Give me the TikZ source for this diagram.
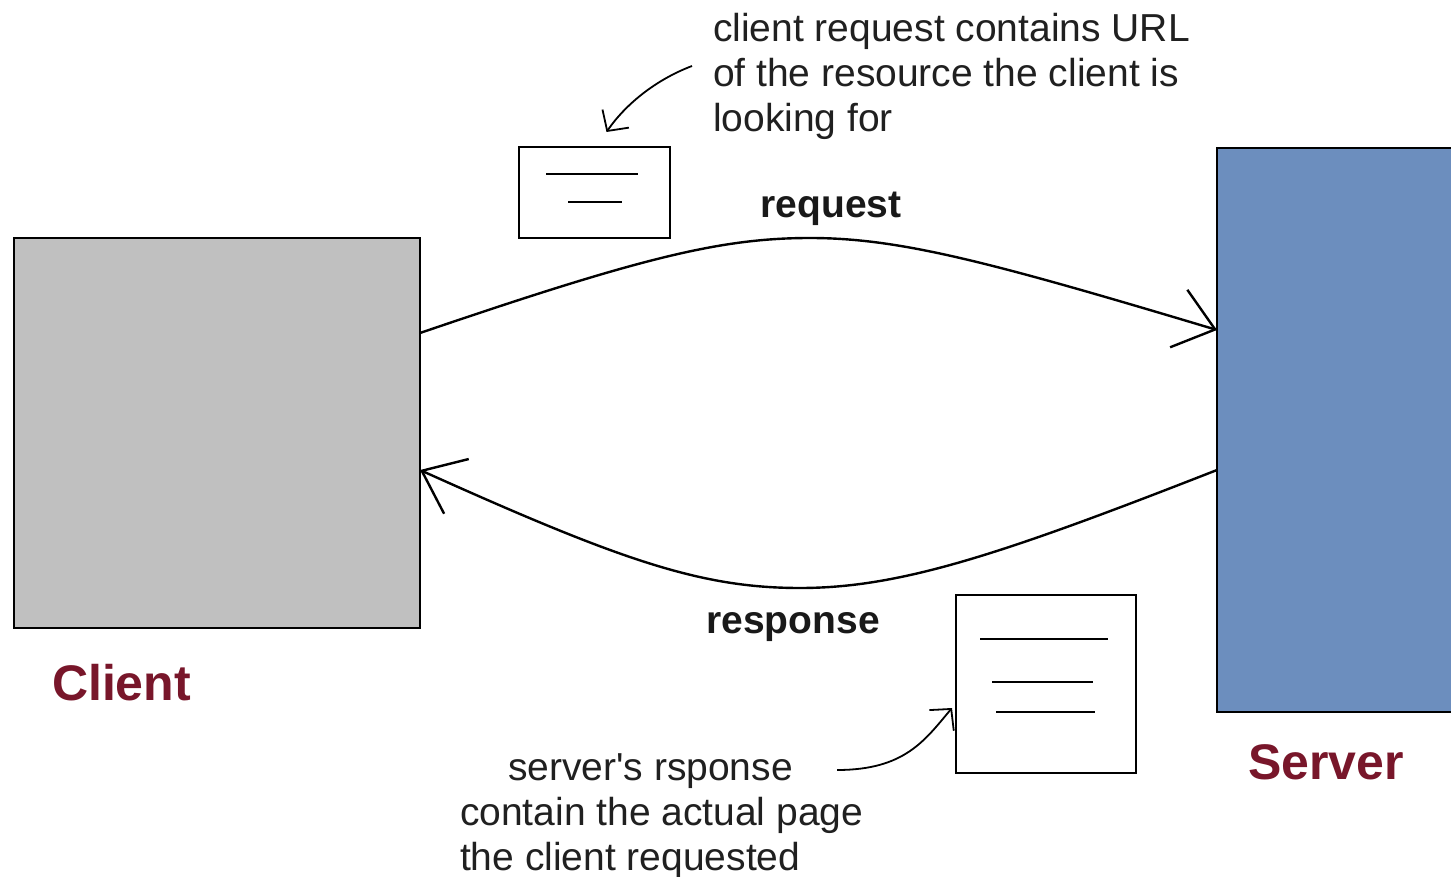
\documentclass[tikz,border=0pt]{standalone}
\usepackage{fontspec}
\setmainfont{Liberation Sans}[Ligatures=TeXOff]
\usetikzlibrary{arrows.meta}
\definecolor{clientgray}{RGB}{192,192,192}
\definecolor{serverblue}{RGB}{108,142,190}
\definecolor{labelred}{RGB}{120,22,42}
\definecolor{ink}{RGB}{32,32,32}
\begin{document}
\begin{tikzpicture}[x=1pt,y=-1pt,
  every node/.style={inner sep=0pt, outer sep=0pt},
  box/.style={draw=black, line width=2.6pt, rectangle},
  clientbox/.style={box, fill=clientgray, minimum width=406pt, minimum height=390pt},
  serverbox/.style={box, fill=serverblue, minimum width=245pt, minimum height=564pt},
  docbox/.style={box, fill=white},
  docline/.style={line width=2.6pt},
  flow/.style={line width=2.4pt, -{Straight Barb[length=38pt,width=60pt,line width=2.4pt]}},
  note/.style={line width=1.8pt, -{Straight Barb[length=15pt,width=32pt,line width=1.8pt]}},
  notetext/.style={text=ink, align=left, font=\fontsize{39}{45}\selectfont},
  flowlabel/.style={text=black!90, font=\bfseries\fontsize{39}{47}\selectfont},
  rolelabel/.style={text=labelred, font=\bfseries\fontsize{50}{60}\selectfont}]
\useasboundingbox (0,0) rectangle (1451,877);
\fill[white] (0,0) rectangle (1451,877);

% the two machines
\node[clientbox] (client) at (217,433) {};
\node[serverbox] (server) at (1339.5,430) {};

% message documents
\node[docbox, minimum width=151pt, minimum height=91pt] (reqdoc) at (594.5,192.5) {};
\draw[docline] (546,174) -- (638,174);
\draw[docline] (568,202) -- (622,202);

\node[docbox, minimum width=180pt, minimum height=178pt] (respdoc) at (1046,684) {};
\draw[docline] (980,639) -- (1108,639);
\draw[docline] (992,682) -- (1093,682);
\draw[docline] (996,712) -- (1095,712);

% request and response flows
\draw[flow] ([yshift=100pt]client.east) .. controls (640,258) and (720,238) .. (810,238)
  .. controls (900,238) and (990,262) .. ([yshift=100pt]server.west);
\draw[flow] ([yshift=-40pt]server.west) .. controls (1000,555) and (900,588) .. (800,588)
  .. controls (700,588) and (620,560) .. ([yshift=-37pt]client.east);

\node[flowlabel, anchor=base] (reqlabel) at (831,218) {request};
\node[flowlabel, anchor=base] (resplabel) at (793,633) {response};

% role labels
\node[rolelabel, anchor=base west] (clientlabel) at (52,700) {Client};
\node[rolelabel, anchor=base west] (serverlabel) at (1248,779) {Server};

% annotations
\node[notetext, anchor=north west] (reqnote) at (713,13)
  {client request contains URL\\of the resource the client is\\looking for};
\coordinate (reqtail) at (692,66);
\draw[note] (reqtail) .. controls (655,80) and (625,105) .. ([xshift=12pt,yshift=15pt]reqdoc.north);

\node[notetext, anchor=north west] (respnote) at (460,754)
  {\hspace*{48pt}server's rsponse\\contain the actual page\\the client requested};
\coordinate (resptail) at (837,770);
\draw[note] (resptail) .. controls (905,770) and (925,740) .. ([xshift=-4pt,yshift=-24pt]respdoc.west);
\end{tikzpicture}
\end{document}
